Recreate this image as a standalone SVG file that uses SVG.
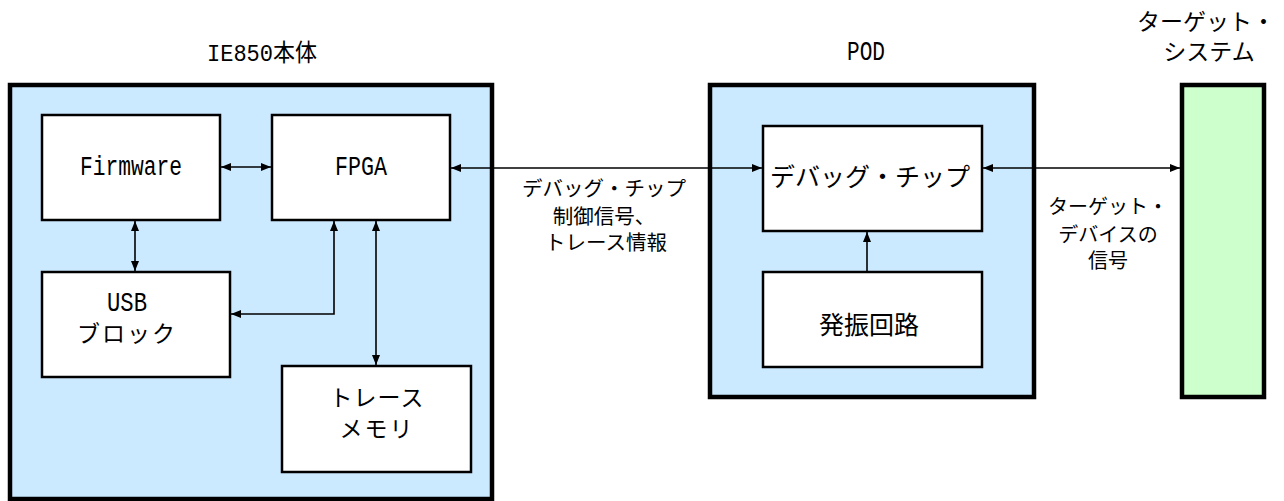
<svg xmlns="http://www.w3.org/2000/svg" width="1284" height="501" viewBox="0 0 1284 501">
<style>
.outer{fill:#cceaff;stroke:#000;stroke-width:4.5}
.tgt{fill:#ccffcc;stroke:#000;stroke-width:4.5}
.box{fill:#fff;stroke:#000;stroke-width:2.5}
.mono{font-family:"Liberation Mono","Noto Sans CJK JP",monospace;fill:#000}
.jp{font-family:"Noto Sans CJK JP","Noto Sans",sans-serif;fill:#000;text-anchor:middle}
.conn{fill:none;stroke:#000;stroke-width:1.6}
</style>
<defs>
<marker id="ah" viewBox="0 0 10 8" refX="10" refY="4" markerWidth="10" markerHeight="8" markerUnits="userSpaceOnUse" orient="auto-start-reverse">
<path d="M0,0 L10,4 L0,8 Z" fill="#000"/>
</marker>
</defs>
<rect width="1284" height="501" fill="#fff"/>

<g id="ie850">
<rect class="outer" x="10" y="85" width="482" height="414"/>
<text x="207" y="61" class="mono" font-size="24" textLength="110" lengthAdjust="spacingAndGlyphs">IE850本体</text>
</g>
<g id="firmware">
<rect class="box" x="42" y="115" width="178" height="105"/>
<text class="mono" x="80" y="175" font-size="27" textLength="102" lengthAdjust="spacingAndGlyphs">Firmware</text>
</g>
<g id="fpga">
<rect class="box" x="272" y="115" width="178" height="105"/>
<text class="mono" x="335" y="175" font-size="27" textLength="52" lengthAdjust="spacingAndGlyphs">FPGA</text>
</g>
<g id="usb">
<rect class="box" x="42" y="272" width="188" height="105"/>
<text font-size="23"><tspan class="mono" x="107" y="311" font-size="27" textLength="40" lengthAdjust="spacingAndGlyphs">USB</tspan><tspan class="jp" x="127" y="342" letter-spacing="2">ブロック</tspan></text>
</g>
<g id="trace">
<rect class="box" x="282" y="366" width="189" height="106"/>
<text class="jp" font-size="23"><tspan x="377" y="406" letter-spacing="1">トレース</tspan><tspan x="377" y="437" letter-spacing="2">メモリ</tspan></text>
</g>

<g id="pod">
<rect class="outer" x="710" y="85" width="324" height="312"/>
<text class="mono" x="847" y="60" font-size="27" textLength="38" lengthAdjust="spacingAndGlyphs">POD</text>
</g>
<g id="debugchip">
<rect class="box" x="763" y="126" width="219" height="105"/>
<text class="jp" x="870" y="186" font-size="25">デバッグ・チップ</text>
</g>
<g id="osc">
<rect class="box" x="763" y="272" width="219" height="95"/>
<text class="jp" x="869" y="334" font-size="25">発振回路</text>
</g>

<g id="target">
<rect class="tgt" x="1182" y="85" width="82" height="312"/>
<text class="jp" font-size="23"><tspan x="1206" y="30">ターゲット・</tspan><tspan x="1209" y="60">システム</tspan></text>
</g>

<g id="labels">
<text class="jp" font-size="20.5"><tspan x="604" y="196">デバッグ・チップ</tspan><tspan x="604" y="224">制御信号、</tspan><tspan x="606" y="250">トレース情報</tspan></text>
<text class="jp" font-size="20"><tspan x="1108" y="214">ターゲット・</tspan><tspan x="1108" y="242">デバイスの</tspan><tspan x="1108" y="268">信号</tspan></text>
</g>

<g id="connectors">
<line class="conn" x1="221" y1="167" x2="271" y2="167" marker-start="url(#ah)" marker-end="url(#ah)"/>
<line class="conn" x1="451" y1="168" x2="762" y2="168" marker-start="url(#ah)" marker-end="url(#ah)"/>
<line class="conn" x1="983" y1="168" x2="1180" y2="168" marker-start="url(#ah)" marker-end="url(#ah)"/>
<line class="conn" x1="135" y1="221" x2="135" y2="271" marker-start="url(#ah)" marker-end="url(#ah)"/>
<path class="conn" d="M334,221 V314 H231" marker-start="url(#ah)" marker-end="url(#ah)"/>
<line class="conn" x1="376" y1="221" x2="376" y2="365" marker-start="url(#ah)" marker-end="url(#ah)"/>
<line class="conn" x1="867" y1="271" x2="867" y2="232" marker-end="url(#ah)"/>
</g>
</svg>
